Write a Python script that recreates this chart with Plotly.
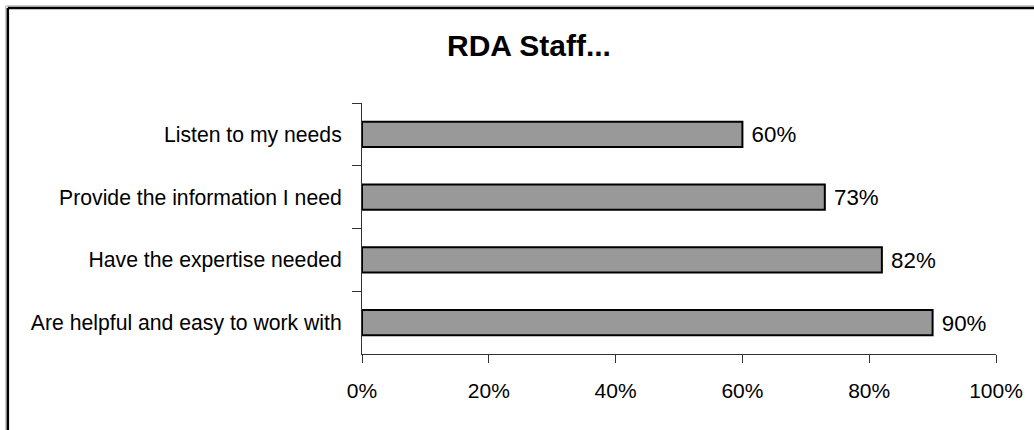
import plotly.graph_objects as go

# Data (top to bottom as shown)
categories = [
    "Listen to my needs",
    "Provide the information I need",
    "Have the expertise needed",
    "Are helpful and easy to work with",
]
values = [0.60, 0.73, 0.82, 0.90]
value_labels = ["60%", "73%", "82%", "90%"]
x_ticks = [0, 0.2, 0.4, 0.6, 0.8, 1.0]
x_tick_labels = ["0%", "20%", "40%", "60%", "80%", "100%"]
title_text = "RDA Staff..."

W, H = 1034, 430
L, R, T, B = 362, 1034 - 995.7, 103, 430 - 353.7
pw, ph = W - L - R, H - T - B

def px_x(px):
    return (px - L) / pw

def px_y(py):
    return (H - B - py) / ph

FONT = "Liberation Sans, Arial, sans-serif"

fig = go.Figure()
fig.add_trace(go.Bar(
    x=values,
    y=categories,
    orientation="h",
    marker=dict(color="#999999", line=dict(color="#000000", width=2)),
    text=[" " + t for t in value_labels],
    textposition="outside",
    textfont=dict(family=FONT, size=24, color="#000000"),
    cliponaxis=False,
    hoverinfo="skip",
))

fig.update_layout(
    width=W, height=H,
    margin=dict(l=L, r=R, t=T, b=B, pad=0),
    paper_bgcolor="white",
    plot_bgcolor="white",
    showlegend=False,
    bargap=0.6,
    font=dict(family=FONT, color="#000000"),
    xaxis=dict(
        range=[0, 1],
        tickvals=x_ticks,
        ticktext=x_tick_labels,
        ticks="outside",
        ticklen=8,
        tickwidth=1,
        tickcolor="#333333",
        showline=True,
        linecolor="#333333",
        linewidth=1,
        showgrid=False,
        zeroline=False,
        tickfont=dict(family=FONT, size=21, color="#000000"),
        ticklabelstandoff=10,
        fixedrange=True,
    ),
    yaxis=dict(
        autorange="reversed",
        categoryorder="array",
        categoryarray=categories,
        tickson="boundaries",
        ticks="outside",
        ticklen=9,
        tickwidth=1,
        tickcolor="#333333",
        showline=True,
        linecolor="#333333",
        linewidth=1,
        showgrid=False,
        zeroline=False,
        tickfont=dict(family=FONT, size=21.2, color="#000000"),
        ticklabelstandoff=15,
        fixedrange=True,
    ),
)

# Title
fig.add_annotation(
    text="<b>" + title_text + "</b>",
    xref="paper", yref="paper",
    x=px_x(529), y=px_y(46),
    xanchor="center", yanchor="middle",
    showarrow=False,
    font=dict(family=FONT, size=30, color="#000000"),
)

# Chart frame (left and top edges visible)
fig.add_shape(type="line", xref="paper", yref="paper",
              x0=px_x(6), x1=px_x(1040), y0=px_y(6), y1=px_y(6),
              line=dict(color="#aaaaaa", width=1), layer="above")
fig.add_shape(type="line", xref="paper", yref="paper",
              x0=px_x(6), x1=px_x(6), y0=px_y(6), y1=px_y(440),
              line=dict(color="#aaaaaa", width=1), layer="above")
fig.add_shape(type="line", xref="paper", yref="paper",
              x0=px_x(8), x1=px_x(1040), y0=px_y(8), y1=px_y(8),
              line=dict(color="#000000", width=2.5), layer="above")
fig.add_shape(type="line", xref="paper", yref="paper",
              x0=px_x(8), x1=px_x(8), y0=px_y(8), y1=px_y(440),
              line=dict(color="#000000", width=2.5), layer="above")

fig.write_html("out.html")
